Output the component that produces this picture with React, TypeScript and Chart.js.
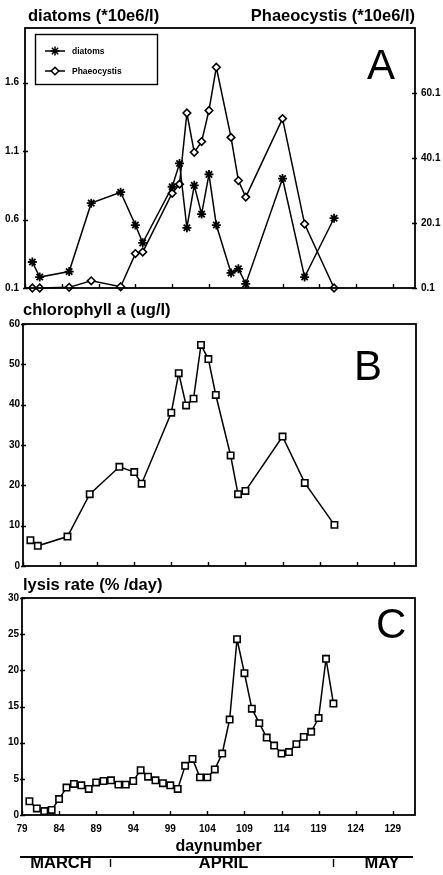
import React, { useEffect, useRef } from 'react';
import Chart from 'chart.js/auto';

const FONT = '"Liberation Sans", Arial, Helvetica, sans-serif';

// ---- data ----
const dayTicks = [79, 84, 89, 94, 99, 104, 109, 114, 119, 124, 129];
const sampleDays = [80, 81, 85, 88, 92, 94, 95, 99, 100, 101, 102, 103, 104, 105, 107, 108, 109, 114, 117, 121];
const diatoms = [0.29, 0.18, 0.22, 0.72, 0.80, 0.56, 0.43, 0.84, 1.01, 0.54, 0.85, 0.64, 0.93, 0.56, 0.21, 0.24, 0.13, 0.90, 0.18, 0.61];
const phaeocystis = [0.1, 0.1, 0.3, 2.3, 0.5, 10.7, 11.2, 29.3, 32.1, 54.0, 41.9, 45.2, 54.8, 68.1, 46.5, 33.2, 28.1, 52.3, 19.8, 0.1];
const chlorophyll = [6.4, 5.0, 7.3, 17.8, 24.6, 23.3, 20.4, 38.0, 47.8, 39.8, 41.5, 54.8, 51.3, 42.4, 27.4, 17.8, 18.6, 32.1, 20.6, 10.2];
const lysisDays = [80, 81, 82, 83, 84, 85, 86, 87, 88, 89, 90, 91, 92, 93, 94, 95, 96, 97, 98, 99, 100, 101, 102, 103, 104, 105, 106, 107, 108, 109, 110, 111, 112, 113, 114, 115, 116, 117, 118, 119, 120, 121];
const lysisRate = [1.9, 0.9, 0.55, 0.7, 2.2, 3.8, 4.3, 4.1, 3.6, 4.5, 4.7, 4.8, 4.2, 4.2, 4.7, 6.2, 5.3, 4.8, 4.4, 4.1, 3.6, 6.8, 7.75, 5.2, 5.2, 6.3, 8.5, 13.2, 24.3, 19.6, 14.7, 12.7, 10.7, 9.6, 8.5, 8.7, 9.8, 10.8, 11.5, 13.4, 21.6, 15.4];
const diatomTicks = [0.1, 0.6, 1.1, 1.6];
const phaeoTicks = [0.1, 20.1, 40.1, 60.1];
const chlTicks = [0, 10, 20, 30, 40, 50, 60];
const lysisTicks = [0, 5, 10, 15, 20, 25, 30];
const months = ['MARCH', 'APRIL', 'MAY'];

const pts = (xs: number[], ys: number[]) => xs.map((x, i) => ({ x, y: ys[i] }));

type TextItem = { text: string; x: number; y: number; size: number; bold?: boolean; align?: CanvasTextAlign };
type DecoCfg = {
  texts: TextItem[];
  yScales: { id: string; side: 'left' | 'right' }[];
  legend?: boolean;
  months?: boolean;
};

function drawStar(ctx: CanvasRenderingContext2D, x: number, y: number, r: number) {
  ctx.beginPath();
  ctx.moveTo(x - r, y); ctx.lineTo(x + r, y);
  ctx.moveTo(x, y - r); ctx.lineTo(x, y + r);
  const d = r * Math.SQRT1_2;
  ctx.moveTo(x - d, y - d); ctx.lineTo(x + d, y + d);
  ctx.moveTo(x - d, y + d); ctx.lineTo(x + d, y - d);
  ctx.stroke();
}
function drawDiamond(ctx: CanvasRenderingContext2D, x: number, y: number, r: number) {
  ctx.beginPath();
  ctx.moveTo(x, y - r); ctx.lineTo(x + r, y); ctx.lineTo(x, y + r); ctx.lineTo(x - r, y); ctx.closePath();
  ctx.fillStyle = '#fff';
  ctx.fill();
  ctx.stroke();
}

function makeDeco(cfg: DecoCfg) {
  return {
    id: 'deco',
    afterDraw(chart: any) {
      const ctx: CanvasRenderingContext2D = chart.ctx;
      const a = chart.chartArea;
      ctx.save();
      ctx.strokeStyle = '#000';
      ctx.fillStyle = '#000';
      ctx.lineWidth = 1.8;
      ctx.strokeRect(a.left, a.top, a.right - a.left, a.bottom - a.top);
      ctx.lineWidth = 1.4;
      const xs = chart.scales.x;
      ctx.beginPath();
      for (const t of xs.ticks) {
        const px = Math.round(xs.getPixelForValue(t.value)) + 0.5;
        ctx.moveTo(px, a.bottom);
        ctx.lineTo(px, a.bottom - 4);
      }
      for (const ys of cfg.yScales) {
        const s = chart.scales[ys.id];
        for (const t of s.ticks) {
          const py = Math.round(s.getPixelForValue(t.value)) + 0.5;
          if (ys.side === 'left') { ctx.moveTo(a.left - 2, py); ctx.lineTo(a.left + 3, py); }
          else { ctx.moveTo(a.right + 2, py); ctx.lineTo(a.right - 3, py); }
        }
      }
      ctx.stroke();
      ctx.textBaseline = 'alphabetic';
      for (const t of cfg.texts) {
        ctx.font = `${t.bold ? 'bold ' : ''}${t.size}px ${FONT}`;
        ctx.textAlign = t.align || 'left';
        ctx.fillStyle = '#000';
        ctx.fillText(t.text, t.x, t.y);
      }
      if (cfg.legend) {
        ctx.lineWidth = 1.4;
        ctx.strokeRect(35.5, 34.5, 122, 50);
        const labels = [chart.data.datasets[0].label, chart.data.datasets[1].label];
        const rows = [51, 71];
        rows.forEach((ry, i) => {
          ctx.lineWidth = 1.5;
          ctx.beginPath();
          ctx.moveTo(45, ry); ctx.lineTo(65, ry);
          ctx.stroke();
          if (i === 0) drawStar(ctx, 55, ry, 4.5); else drawDiamond(ctx, 55, ry, 3.8);
          ctx.fillStyle = '#000';
          ctx.font = `bold 8.5px ${FONT}`;
          ctx.textAlign = 'left';
          ctx.fillText(labels[i], 72, ry + 3);
        });
      }
      if (cfg.months) {
        ctx.lineWidth = 1.8;
        ctx.beginPath();
        ctx.moveTo(20, 282); ctx.lineTo(413, 282);
        ctx.stroke();
        ctx.lineWidth = 1.4;
        ctx.beginPath();
        const b1 = Math.round(xs.getPixelForValue(91)) - 0.5;
        const b2 = Math.round(xs.getPixelForValue(121)) + 0.5;
        ctx.moveTo(b1, 284); ctx.lineTo(b1, 292);
        ctx.moveTo(b2, 284); ctx.lineTo(b2, 292);
        ctx.stroke();
        ctx.font = `bold 16.5px ${FONT}`;
        ctx.textAlign = 'center';
        const mx = [61, 223.5, 382];
        months.forEach((m, i) => ctx.fillText(m, mx[i], 293));
      }
      ctx.restore();
    },
  };
}

const tickFont = { family: FONT, size: 10, weight: 'bold' as const };

function xScale(showLabels: boolean, height: number) {
  return {
    type: 'linear' as const,
    min: 79,
    max: 132,
    afterBuildTicks: (s: any) => { s.ticks = dayTicks.map((v) => ({ value: v })); },
    afterFit: (s: any) => { s.height = height; },
    grid: { display: false, drawTicks: false },
    border: { display: false },
    ticks: {
      display: showLabels,
      color: '#000',
      font: tickFont,
      padding: 8,
      autoSkip: false,
      maxRotation: 0,
      callback: (v: any) => String(v),
    },
  };
}

function yScale(position: 'left' | 'right', min: number, max: number, tickVals: number[], width: number, padding: number) {
  return {
    type: 'linear' as const,
    position,
    min,
    max,
    afterBuildTicks: (s: any) => { s.ticks = tickVals.map((v) => ({ value: v })); },
    afterFit: (s: any) => { s.width = width; },
    grid: { display: false, drawTicks: false },
    border: { display: false },
    ticks: { color: '#000', font: tickFont, padding, autoSkip: false, callback: (v: any) => String(v) },
  };
}

const lineDs = {
  borderColor: '#000',
  borderWidth: 1.5,
  pointBorderColor: '#000',
  pointBorderWidth: 1.6,
  pointBackgroundColor: '#fff',
  tension: 0,
  clip: false as const,
};

function baseOptions(padTop: number, padRight: number, scales: any) {
  return {
    animation: false as const,
    responsive: false,
    events: [] as any[],
    layout: { padding: { top: padTop, right: padRight, left: 0, bottom: 0 } },
    plugins: { legend: { display: false }, tooltip: { enabled: false } },
    scales,
  };
}

export default function App() {
  const refA = useRef<HTMLCanvasElement>(null);
  const refB = useRef<HTMLCanvasElement>(null);
  const refC = useRef<HTMLCanvasElement>(null);

  useEffect(() => {
    Chart.defaults.font.family = FONT;
    const charts: Chart[] = [];

    charts.push(new Chart(refA.current!, {
      type: 'line',
      data: {
        datasets: [
          { ...lineDs, label: 'diatoms', data: pts(sampleDays, diatoms), yAxisID: 'y', pointStyle: 'star', pointRadius: 4.5, pointBorderWidth: 1.8 },
          { ...lineDs, label: 'Phaeocystis', data: pts(sampleDays, phaeocystis), yAxisID: 'y2', pointStyle: 'rectRot', pointRadius: 3.8 },
        ],
      },
      options: baseOptions(28, 0, {
        x: xScale(false, 5),
        y: yScale('left', 0.1, 2.0, diatomTicks, 25, 6),
        y2: yScale('right', 0.1, 80.2, phaeoTicks, 28, 6),
      }),
      plugins: [makeDeco({
        texts: [
          { text: 'diatoms (*10e6/l)', x: 28, y: 20.5, size: 16.5, bold: true },
          { text: 'Phaeocystis (*10e6/l)', x: 415, y: 20.5, size: 16.5, bold: true, align: 'right' },
          { text: 'A', x: 367, y: 79, size: 42 },
        ],
        yScales: [{ id: 'y', side: 'left' }, { id: 'y2', side: 'right' }],
        legend: true,
      })],
    } as any));

    charts.push(new Chart(refB.current!, {
      type: 'line',
      data: {
        datasets: [
          { ...lineDs, label: 'chlorophyll a', data: pts(sampleDays, chlorophyll), pointStyle: 'rect', pointRadius: 4.5 },
        ],
      },
      options: baseOptions(24, 27, {
        x: xScale(false, 6),
        y: yScale('left', 0, 60, chlTicks, 23, 3),
      }),
      plugins: [makeDeco({
        texts: [
          { text: 'chlorophyll a (ug/l)', x: 23, y: 15, size: 16.5, bold: true },
          { text: 'B', x: 354, y: 80, size: 42 },
        ],
        yScales: [{ id: 'y', side: 'left' }],
      })],
    } as any));

    charts.push(new Chart(refC.current!, {
      type: 'line',
      data: {
        datasets: [
          { ...lineDs, label: 'lysis rate', data: pts(lysisDays, lysisRate), pointStyle: 'rect', pointRadius: 4.5 },
        ],
      },
      options: baseOptions(23, 28, {
        x: xScale(true, 60),
        y: yScale('left', 0, 30, lysisTicks, 22, 3),
      }),
      plugins: [makeDeco({
        texts: [
          { text: 'lysis rate (% /day)', x: 23, y: 15, size: 16.5, bold: true },
          { text: 'C', x: 376, y: 62.5, size: 42 },
          { text: 'daynumber', x: 218.5, y: 276, size: 16, bold: true, align: 'center' },
        ],
        yScales: [{ id: 'y', side: 'left' }],
        months: true,
      })],
    } as any));

    return () => { charts.forEach((c) => c.destroy()); };
  }, []);

  const cv = (top: number, h: number): React.CSSProperties => ({ position: 'absolute', left: 0, top, width: 443, height: h });
  return (
    <div style={{ position: 'absolute', left: 0, top: 0, width: 443, height: 875, background: '#fff' }}>
      <canvas ref={refA} width={443} height={300} style={cv(0, 300)} />
      <canvas ref={refB} width={443} height={275} style={cv(300, 275)} />
      <canvas ref={refC} width={443} height={300} style={cv(575, 300)} />
    </div>
  );
}
